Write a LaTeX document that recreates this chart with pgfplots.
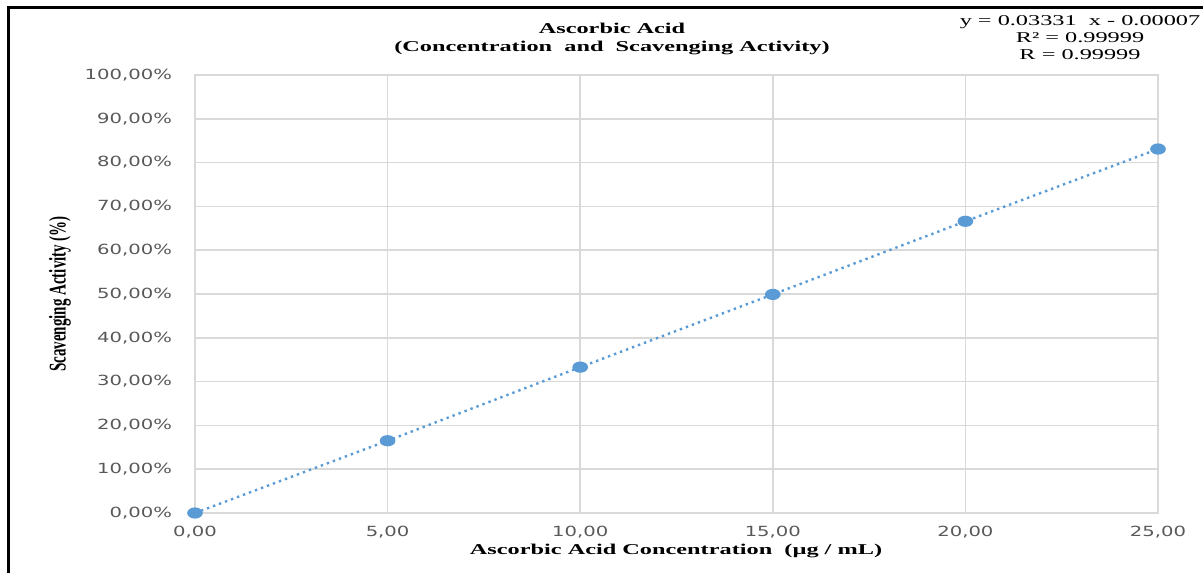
\documentclass[border=0pt]{standalone}
\usepackage{fontspec}
\setmainfont{Liberation Serif}[FakeStretch=1.62]
\newfontfamily\tickfont{DejaVu Sans}[FakeStretch=1.4]
\newfontfamily\ylabfont{Liberation Serif}
\usepackage{pgfplots}
\pgfplotsset{compat=1.18}
\definecolor{serblue}{HTML}{5B9BD5}
\definecolor{gridgray}{HTML}{D9D9D9}
\definecolor{tickgray}{HTML}{595959}
\begin{document}
\begin{tikzpicture}[x=1pt,y=1pt]
\useasboundingbox (0,0) rectangle (601.5,286.5);
\begin{axis}[
  at={(97.5pt,30pt)}, anchor=south west,
  scale only axis, width=481.5pt, height=219pt,
  xmin=0, xmax=25, ymin=0, ymax=100,
  xtick={0,5,10,15,20,25}, ytick={0,10,20,30,40,50,60,70,80,90,100},
  grid=major, major grid style={gridgray, line width=0.8pt},
  axis line style={gridgray, line width=0.8pt},
  tick style={draw=none}, major tick length=0pt,
  /pgf/number format/assume math mode=true,
  ticklabel style={font=\tickfont\fontsize{7}{8}\selectfont, text=tickgray},
  xticklabel={\pgfmathprintnumber[fixed,fixed zerofill,precision=2,use comma]{\tick}},
  yticklabel={\pgfmathprintnumber[fixed,fixed zerofill,precision=2,use comma]{\tick}\%},
  yticklabel style={xshift=-8pt},
  xticklabel style={yshift=-3pt},
  clip=false,
]
\addplot[serblue, line width=1.2pt, dash pattern=on 1.2pt off 2pt, mark=*, mark size=2.2pt,
  mark options={solid, fill=serblue, draw=serblue, xscale=1.5}]
  coordinates {(0,0) (5,16.5) (10,33.3) (15,49.9) (20,66.6) (25,83.1)};
\end{axis}
\draw[line width=1.5pt] (4,0) -- (4,282.5) -- (601.5,282.5);
\node[font=\bfseries\fontsize{7.5}{9}\selectfont, align=center] at (306,267) {Ascorbic Acid\\(Concentration\ \ and\ \ Scavenging Activity)};
\node[font=\fontsize{7.5}{8.5}\selectfont, align=center] at (540,267.5) {y = 0.03331\ \ x - 0.00007\\R² = 0.99999\\R = 0.99999};
\node[font=\bfseries\fontsize{7.5}{9}\selectfont] at (338,11) {Ascorbic Acid Concentration\ \ (µg / mL)};
\node[rotate=90, font=\ylabfont\bfseries\fontsize{7.5}{9}\selectfont] at (30,139.5) {\scalebox{1}[1.6]{Scavenging Activity (\%)}};
\end{tikzpicture}
\end{document}
